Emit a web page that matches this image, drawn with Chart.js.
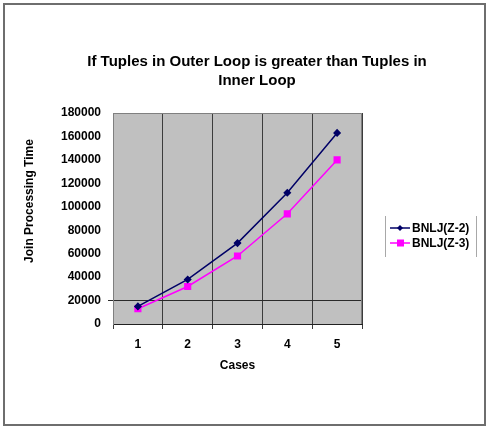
<!DOCTYPE html>
<html>
<head>
<meta charset="utf-8">
<script src="https://cdn.jsdelivr.net/npm/chart.js@4.4.1/dist/chart.umd.min.js"></script>
<style>
  html, body { margin: 0; padding: 0; background: #fff; }
  #wrap { width: 492px; height: 428px; }
</style>
</head>
<body>
<div id="wrap"><canvas id="joinChart" width="492" height="428"></canvas></div>
<script>
// data
const cases = ['1', '2', '3', '4', '5'];
const bnljZ2 = [15000, 38000, 69000, 112000, 163000];
const bnljZ3 = [13000, 32000, 58000, 94000, 140000];
const titleLines = ['If Tuples in Outer Loop is greater than Tuples in', 'Inner Loop'];
const yTitle = 'Join Processing Time';

const FONT = '"Liberation Sans", Arial, sans-serif';

// ── frame, grey plot area, titles and legend (Excel look) ──
const excelLook = {
  id: 'excelLook',
  beforeDraw(chart) {
    const { ctx, chartArea: a } = chart;
    ctx.save();
    ctx.fillStyle = '#fff';
    ctx.fillRect(0, 0, chart.width, chart.height);
    ctx.strokeStyle = '#6e6e6e';
    ctx.lineWidth = 2;
    ctx.strokeRect(4, 4, 481, 421);
    ctx.fillStyle = '#c0c0c0';
    ctx.fillRect(a.left, a.top, a.right - a.left, a.bottom - a.top);
    ctx.restore();
  },
  afterDatasetsDraw(chart) {
    const { ctx, chartArea: a } = chart;
    ctx.save();
    ctx.strokeStyle = '#808080';
    ctx.lineWidth = 1;
    ctx.beginPath();
    ctx.moveTo(a.left + 0.5, a.bottom);
    ctx.lineTo(a.left + 0.5, a.top + 0.5);
    ctx.lineTo(a.right - 0.5, a.top + 0.5);
    ctx.lineTo(a.right - 0.5, a.bottom);
    ctx.stroke();
    ctx.restore();
  },
  afterDraw(chart) {
    const { ctx } = chart;
    ctx.save();
    // chart title
    ctx.fillStyle = '#000';
    ctx.font = 'bold 15px ' + FONT;
    ctx.textAlign = 'center';
    ctx.textBaseline = 'middle';
    titleLines.forEach((t, i) => ctx.fillText(t, 257, 62 + i * 19));

    // y axis title (sits a little above the plot centre, as in the original)
    ctx.save();
    ctx.translate(30, 201);
    ctx.rotate(-Math.PI / 2);
    ctx.font = 'bold 12px ' + FONT;
    ctx.fillText(yTitle, 0, 0);
    ctx.restore();

    // legend
    ctx.strokeStyle = '#a8a8a8';
    ctx.lineWidth = 1;
    ctx.beginPath();
    ctx.moveTo(385.5, 216); ctx.lineTo(385.5, 257);
    ctx.moveTo(476.5, 216); ctx.lineTo(476.5, 257);
    ctx.stroke();
    ctx.textAlign = 'left';
    ctx.font = 'bold 12px ' + FONT;
    chart.data.datasets.forEach((ds, i) => {
      const y = 228 + i * 15;
      ctx.strokeStyle = ds.borderColor;
      ctx.lineWidth = 1.5;
      ctx.beginPath();
      ctx.moveTo(390, y); ctx.lineTo(410, y);
      ctx.stroke();
      ctx.fillStyle = ds.borderColor;
      if (ds.pointStyle === 'rect') {
        ctx.fillRect(397, y - 3.5, 7, 7);
      } else {
        ctx.beginPath();
        ctx.moveTo(400, y - 3); ctx.lineTo(403, y); ctx.lineTo(400, y + 3); ctx.lineTo(397, y);
        ctx.closePath();
        ctx.fill();
      }
      ctx.fillStyle = '#000';
      ctx.fillText(ds.label, 412, y + 1);
    });
    ctx.restore();
  },
};

new Chart(document.getElementById('joinChart'), {
  type: 'line',
  data: {
    labels: cases,
    datasets: [
      {
        label: 'BNLJ(Z-2)',
        data: bnljZ2,
        borderColor: '#000066',
        backgroundColor: '#000066',
        borderWidth: 1.5,
        pointStyle: 'rectRot',
        pointRadius: 3,
        tension: 0,
      },
      {
        label: 'BNLJ(Z-3)',
        data: bnljZ3,
        borderColor: '#ff00ff',
        backgroundColor: '#ff00ff',
        borderWidth: 1.5,
        pointStyle: 'rect',
        pointRadius: 4,
        tension: 0,
      },
    ],
  },
  options: {
    responsive: false,
    animation: false,
    devicePixelRatio: 1,
    layout: { padding: { left: 0, right: 130, top: 113, bottom: 0 } },
    plugins: {
      legend: { display: false },
      title: { display: false },
      tooltip: { enabled: false },
    },
    scales: {
      x: {
        offset: true,
        afterFit: (s) => { s.height = 104; },
        grid: {
          offset: true,
          color: '#3c3c3c',
          tickColor: '#3c3c3c',
          tickLength: 5,
        },
        border: { display: true, color: '#202020', width: 1 },
        ticks: {
          color: '#000',
          padding: 8,
          font: { family: FONT, size: 12, weight: 'bold' },
        },
        title: {
          display: true,
          text: 'Cases',
          color: '#000',
          font: { family: FONT, size: 12, weight: 'bold' },
          padding: { top: 0, bottom: 55 },
        },
      },
      y: {
        min: 0,
        max: 180000,
        afterFit: (s) => { s.width = 113; },
        grid: {
          color: (c) => c.tick && c.tick.value === 20000 ? '#2a2a2a' : 'rgba(0,0,0,0)',
          tickColor: (c) => c.tick && c.tick.value === 20000 ? '#2a2a2a' : 'rgba(0,0,0,0)',
          tickLength: 5,
        },
        border: { display: true, color: '#808080', width: 1 },
        ticks: {
          stepSize: 20000,
          color: '#000',
          padding: 7,
          callback: (v) => String(v),
          font: { family: FONT, size: 12, weight: 'bold' },
        },
      },
    },
  },
  plugins: [excelLook],
});
</script>
</body>
</html>
